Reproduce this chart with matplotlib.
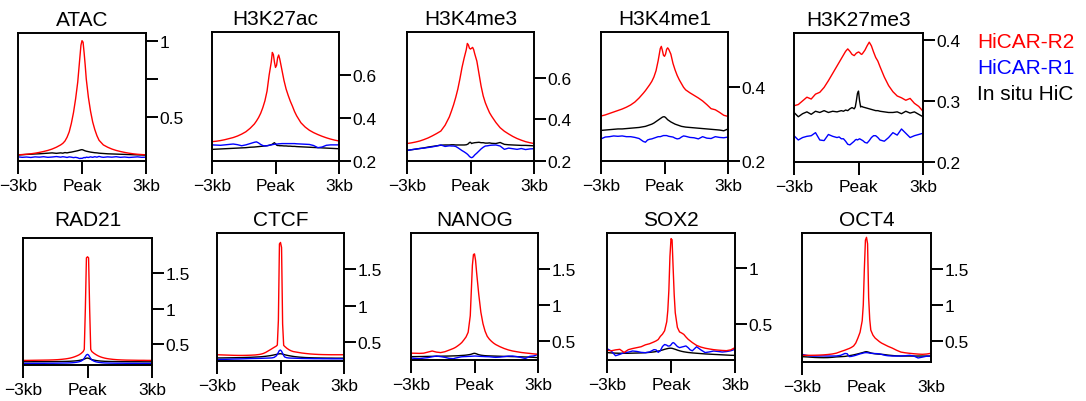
import matplotlib
matplotlib.use("Agg")
import matplotlib.pyplot as plt

plt.rcParams["font.family"] = ["Liberation Sans", "DejaVu Sans"]

FIG_W, FIG_H = 1086, 402

RED = "#ff0000"
BLUE = "#0000ff"
BLACK = "#000000"

# distance from peak centre (kb), shared by every profile
positions = [
    -3.0, -2.8, -2.6, -2.4, -2.2, -2.0, -1.8, -1.6, -1.4,
    -1.2, -1.0, -0.9, -0.8, -0.7, -0.6, -0.5, -0.4, -0.3,
    -0.2, -0.15, -0.1, -0.05, 0.0, 0.05, 0.1, 0.15, 0.2,
    0.3, 0.4, 0.5, 0.6, 0.7, 0.8, 0.9, 1.0, 1.2,
    1.4, 1.6, 1.8, 2.0, 2.2, 2.4, 2.6, 2.8, 3.0,
]
x_tick_labels = ["\u22123kb", "Peak", "3kb"]
series_names = ["HiCAR-R2", "HiCAR-R1", "In situ HiC"]

# ---- ATAC
atac_r2 = [
    0.255, 0.257, 0.259, 0.262, 0.266, 0.271, 0.277, 0.284, 0.293,
    0.305, 0.320, 0.330, 0.345, 0.370, 0.405, 0.460, 0.530, 0.620,
    0.730, 0.810, 0.890, 0.970, 1.000, 0.990, 0.920, 0.840, 0.750,
    0.630, 0.540, 0.470, 0.420, 0.380, 0.350, 0.335, 0.320, 0.305,
    0.293, 0.284, 0.277, 0.271, 0.266, 0.262, 0.259, 0.257, 0.255,
]
atac_r1 = [
    0.242, 0.239, 0.241, 0.238, 0.242, 0.240, 0.243, 0.239, 0.241,
    0.244, 0.240, 0.243, 0.241, 0.238, 0.242, 0.240, 0.237, 0.239,
    0.236, 0.233, 0.231, 0.233, 0.232, 0.235, 0.238, 0.236, 0.240,
    0.238, 0.242, 0.239, 0.243, 0.240, 0.245, 0.241, 0.239, 0.242,
    0.240, 0.243, 0.239, 0.241, 0.238, 0.240, 0.242, 0.239, 0.240,
]
atac_hic = [
    0.254, 0.256, 0.258, 0.259, 0.261, 0.262, 0.264, 0.266, 0.268,
    0.265, 0.268, 0.266, 0.270, 0.268, 0.271, 0.273, 0.276, 0.279,
    0.282, 0.284, 0.286, 0.288, 0.289, 0.287, 0.284, 0.281, 0.279,
    0.276, 0.273, 0.271, 0.269, 0.268, 0.266, 0.265, 0.264, 0.262,
    0.261, 0.260, 0.259, 0.258, 0.257, 0.256, 0.255, 0.254, 0.253,
]

# ---- H3K27ac
h3k27ac_r2 = [
    0.290, 0.292, 0.295, 0.299, 0.304, 0.309, 0.316, 0.325, 0.336,
    0.352, 0.372, 0.386, 0.402, 0.422, 0.448, 0.480, 0.525, 0.600,
    0.660, 0.705, 0.695, 0.660, 0.635, 0.645, 0.680, 0.693, 0.675,
    0.625, 0.575, 0.535, 0.505, 0.478, 0.455, 0.430, 0.410, 0.378,
    0.358, 0.343, 0.332, 0.323, 0.315, 0.308, 0.302, 0.297, 0.293,
]
h3k27ac_r1 = [
    0.275, 0.274, 0.273, 0.275, 0.277, 0.279, 0.276, 0.271, 0.275,
    0.281, 0.287, 0.289, 0.284, 0.277, 0.272, 0.270, 0.271, 0.273,
    0.275, 0.276, 0.277, 0.278, 0.278, 0.279, 0.279, 0.280, 0.280,
    0.281, 0.281, 0.281, 0.281, 0.281, 0.281, 0.281, 0.280, 0.279,
    0.278, 0.277, 0.272, 0.262, 0.265, 0.273, 0.275, 0.275, 0.275,
]
h3k27ac_hic = [
    0.254, 0.255, 0.256, 0.257, 0.258, 0.259, 0.260, 0.261, 0.262,
    0.264, 0.265, 0.266, 0.267, 0.268, 0.269, 0.270, 0.271, 0.273,
    0.276, 0.278, 0.282, 0.285, 0.280, 0.274, 0.272, 0.272, 0.271,
    0.271, 0.270, 0.270, 0.269, 0.269, 0.268, 0.268, 0.267, 0.266,
    0.265, 0.264, 0.263, 0.262, 0.261, 0.260, 0.259, 0.258, 0.257,
]

# ---- H3K4me3
h3k4me3_r2 = [
    0.284, 0.287, 0.291, 0.296, 0.303, 0.311, 0.321, 0.332, 0.344,
    0.372, 0.412, 0.440, 0.470, 0.505, 0.545, 0.595, 0.650, 0.695,
    0.735, 0.765, 0.758, 0.742, 0.738, 0.742, 0.746, 0.735, 0.715,
    0.680, 0.620, 0.560, 0.513, 0.480, 0.455, 0.432, 0.415, 0.385,
    0.360, 0.343, 0.330, 0.318, 0.308, 0.300, 0.293, 0.288, 0.284,
]
h3k4me3_r1 = [
    0.251, 0.254, 0.257, 0.260, 0.262, 0.265, 0.268, 0.272, 0.277,
    0.270, 0.273, 0.272, 0.272, 0.270, 0.264, 0.257, 0.250, 0.244,
    0.237, 0.233, 0.228, 0.222, 0.218, 0.216, 0.218, 0.223, 0.229,
    0.238, 0.248, 0.258, 0.266, 0.272, 0.273, 0.275, 0.276, 0.277,
    0.272, 0.256, 0.262, 0.259, 0.256, 0.260, 0.255, 0.258, 0.259,
]
h3k4me3_hic = [
    0.251, 0.254, 0.257, 0.260, 0.263, 0.267, 0.270, 0.273, 0.276,
    0.277, 0.277, 0.278, 0.278, 0.277, 0.277, 0.277, 0.277, 0.277,
    0.278, 0.280, 0.283, 0.289, 0.290, 0.284, 0.286, 0.287, 0.288,
    0.289, 0.290, 0.288, 0.288, 0.286, 0.286, 0.287, 0.285, 0.284,
    0.289, 0.280, 0.278, 0.277, 0.276, 0.275, 0.275, 0.274, 0.273,
]

# ---- H3K4me1
h3k4me1_r2 = [
    0.322, 0.325, 0.329, 0.333, 0.337, 0.341, 0.346, 0.352, 0.360,
    0.371, 0.384, 0.391, 0.399, 0.407, 0.416, 0.428, 0.445, 0.472,
    0.505, 0.511, 0.500, 0.487, 0.484, 0.490, 0.503, 0.507, 0.503,
    0.490, 0.465, 0.447, 0.432, 0.420, 0.410, 0.400, 0.393, 0.385,
    0.378, 0.371, 0.363, 0.353, 0.342, 0.339, 0.332, 0.324, 0.321,
]
h3k4me1_r1 = [
    0.260, 0.265, 0.266, 0.268, 0.267, 0.268, 0.266, 0.266, 0.264,
    0.261, 0.253, 0.251, 0.257, 0.259, 0.260, 0.262, 0.264, 0.266,
    0.266, 0.267, 0.268, 0.269, 0.269, 0.269, 0.269, 0.268, 0.267,
    0.266, 0.265, 0.262, 0.260, 0.261, 0.265, 0.268, 0.267, 0.264,
    0.263, 0.260, 0.266, 0.262, 0.261, 0.266, 0.264, 0.263, 0.265,
]
h3k4me1_hic = [
    0.283, 0.284, 0.285, 0.286, 0.287, 0.287, 0.288, 0.289, 0.290,
    0.291, 0.293, 0.294, 0.296, 0.298, 0.300, 0.303, 0.307, 0.311,
    0.315, 0.317, 0.319, 0.320, 0.320, 0.318, 0.315, 0.312, 0.310,
    0.306, 0.303, 0.300, 0.298, 0.296, 0.294, 0.293, 0.292, 0.291,
    0.290, 0.289, 0.288, 0.287, 0.286, 0.285, 0.284, 0.282, 0.287,
]

# ---- H3K27me3
h3k27me3_r2 = [
    0.292, 0.294, 0.300, 0.306, 0.303, 0.311, 0.314, 0.322, 0.333,
    0.345, 0.357, 0.363, 0.369, 0.375, 0.381, 0.385, 0.381, 0.376,
    0.374, 0.376, 0.378, 0.379, 0.380, 0.379, 0.377, 0.376, 0.378,
    0.383, 0.390, 0.396, 0.390, 0.380, 0.371, 0.365, 0.356, 0.339,
    0.325, 0.315, 0.308, 0.305, 0.301, 0.304, 0.296, 0.291, 0.283,
]
h3k27me3_r1 = [
    0.243, 0.236, 0.240, 0.242, 0.243, 0.248, 0.236, 0.235, 0.245,
    0.242, 0.240, 0.241, 0.238, 0.238, 0.234, 0.229, 0.228, 0.231,
    0.234, 0.236, 0.237, 0.236, 0.237, 0.238, 0.237, 0.236, 0.235,
    0.232, 0.231, 0.235, 0.240, 0.243, 0.243, 0.240, 0.236, 0.234,
    0.240, 0.248, 0.244, 0.254, 0.247, 0.240, 0.243, 0.245, 0.247,
]
h3k27me3_hic = [
    0.281, 0.274, 0.279, 0.282, 0.278, 0.283, 0.281, 0.284, 0.281,
    0.283, 0.282, 0.283, 0.284, 0.283, 0.285, 0.284, 0.287, 0.289,
    0.287, 0.290, 0.300, 0.312, 0.316, 0.300, 0.290, 0.291, 0.290,
    0.289, 0.288, 0.287, 0.286, 0.285, 0.284, 0.284, 0.283, 0.282,
    0.281, 0.281, 0.282, 0.279, 0.283, 0.280, 0.282, 0.278, 0.274,
]

# ---- RAD21
rad21_r2 = [
    0.275, 0.275, 0.276, 0.277, 0.278, 0.279, 0.280, 0.282, 0.285,
    0.290, 0.297, 0.302, 0.308, 0.316, 0.326, 0.338, 0.352, 0.372,
    0.400, 0.430, 1.000, 1.720, 1.735, 1.720, 1.000, 0.430, 0.400,
    0.375, 0.355, 0.338, 0.325, 0.315, 0.307, 0.301, 0.296, 0.289,
    0.284, 0.281, 0.279, 0.278, 0.277, 0.276, 0.276, 0.275, 0.275,
]
rad21_r1 = [
    0.233, 0.233, 0.233, 0.234, 0.234, 0.234, 0.235, 0.235, 0.236,
    0.237, 0.238, 0.239, 0.240, 0.242, 0.245, 0.249, 0.255, 0.265,
    0.285, 0.305, 0.330, 0.352, 0.360, 0.350, 0.325, 0.300, 0.282,
    0.264, 0.254, 0.248, 0.244, 0.241, 0.239, 0.238, 0.237, 0.236,
    0.235, 0.235, 0.234, 0.234, 0.234, 0.233, 0.233, 0.233, 0.233,
]
rad21_hic = [
    0.256, 0.256, 0.256, 0.257, 0.257, 0.257, 0.258, 0.258, 0.259,
    0.260, 0.261, 0.262, 0.263, 0.265, 0.267, 0.270, 0.274, 0.280,
    0.288, 0.294, 0.300, 0.306, 0.308, 0.305, 0.298, 0.292, 0.286,
    0.279, 0.273, 0.269, 0.266, 0.264, 0.262, 0.261, 0.260, 0.259,
    0.258, 0.257, 0.257, 0.256, 0.256, 0.256, 0.255, 0.255, 0.255,
]

# ---- CTCF
ctcf_r2 = [
    0.326, 0.324, 0.322, 0.320, 0.318, 0.317, 0.317, 0.318, 0.320,
    0.323, 0.330, 0.336, 0.345, 0.358, 0.375, 0.392, 0.410, 0.428,
    0.445, 0.460, 0.800, 1.850, 1.870, 1.800, 0.750, 0.455, 0.440,
    0.415, 0.395, 0.380, 0.370, 0.365, 0.360, 0.355, 0.350, 0.343,
    0.337, 0.333, 0.330, 0.328, 0.327, 0.326, 0.326, 0.326, 0.326,
]
ctcf_r1 = [
    0.261, 0.262, 0.263, 0.265, 0.267, 0.268, 0.270, 0.272, 0.274,
    0.275, 0.276, 0.277, 0.278, 0.279, 0.280, 0.281, 0.283, 0.290,
    0.310, 0.330, 0.360, 0.385, 0.390, 0.375, 0.345, 0.315, 0.295,
    0.285, 0.281, 0.280, 0.279, 0.278, 0.277, 0.276, 0.275, 0.274,
    0.273, 0.272, 0.272, 0.271, 0.271, 0.270, 0.270, 0.270, 0.270,
]
ctcf_hic = [
    0.282, 0.282, 0.283, 0.284, 0.285, 0.286, 0.287, 0.289, 0.291,
    0.294, 0.297, 0.299, 0.302, 0.305, 0.309, 0.313, 0.318, 0.324,
    0.330, 0.334, 0.337, 0.339, 0.340, 0.338, 0.334, 0.330, 0.326,
    0.319, 0.313, 0.308, 0.303, 0.299, 0.296, 0.293, 0.291, 0.287,
    0.285, 0.283, 0.282, 0.281, 0.280, 0.280, 0.279, 0.279, 0.279,
]

# ---- NANOG
nanog_r2 = [
    0.330, 0.329, 0.327, 0.330, 0.345, 0.360, 0.345, 0.338, 0.350,
    0.372, 0.395, 0.410, 0.430, 0.452, 0.478, 0.515, 0.555, 0.620,
    0.850, 1.200, 1.550, 1.700, 1.710, 1.620, 1.450, 1.300, 1.150,
    0.900, 0.740, 0.635, 0.565, 0.525, 0.495, 0.470, 0.450, 0.420,
    0.395, 0.375, 0.360, 0.350, 0.340, 0.333, 0.327, 0.320, 0.315,
]
nanog_r1 = [
    0.263, 0.257, 0.253, 0.262, 0.268, 0.280, 0.290, 0.282, 0.272,
    0.258, 0.253, 0.262, 0.268, 0.275, 0.280, 0.282, 0.283, 0.285,
    0.286, 0.287, 0.288, 0.289, 0.290, 0.290, 0.289, 0.288, 0.287,
    0.285, 0.284, 0.282, 0.281, 0.280, 0.277, 0.274, 0.272, 0.275,
    0.282, 0.289, 0.290, 0.282, 0.270, 0.255, 0.285, 0.292, 0.312,
]
nanog_hic = [
    0.281, 0.282, 0.283, 0.284, 0.285, 0.286, 0.287, 0.288, 0.289,
    0.290, 0.292, 0.293, 0.294, 0.296, 0.298, 0.300, 0.303, 0.307,
    0.312, 0.316, 0.321, 0.326, 0.328, 0.325, 0.320, 0.314, 0.309,
    0.302, 0.298, 0.295, 0.293, 0.292, 0.291, 0.290, 0.289, 0.287,
    0.285, 0.284, 0.282, 0.281, 0.279, 0.277, 0.275, 0.272, 0.268,
]

# ---- SOX2
sox2_r2 = [
    0.266, 0.262, 0.270, 0.275, 0.247, 0.272, 0.282, 0.290, 0.298,
    0.315, 0.325, 0.333, 0.341, 0.350, 0.362, 0.390, 0.410, 0.440,
    0.520, 0.620, 0.800, 1.100, 1.260, 1.250, 1.000, 0.760, 0.600,
    0.470, 0.430, 0.420, 0.408, 0.385, 0.365, 0.350, 0.335, 0.310,
    0.295, 0.285, 0.278, 0.272, 0.268, 0.265, 0.263, 0.270, 0.290,
]
sox2_r1 = [
    0.281, 0.260, 0.218, 0.230, 0.245, 0.250, 0.260, 0.256, 0.248,
    0.245, 0.252, 0.262, 0.272, 0.270, 0.248, 0.262, 0.300, 0.318,
    0.312, 0.305, 0.304, 0.306, 0.315, 0.328, 0.335, 0.330, 0.320,
    0.300, 0.290, 0.295, 0.300, 0.305, 0.290, 0.270, 0.262, 0.298,
    0.270, 0.246, 0.252, 0.260, 0.256, 0.251, 0.255, 0.262, 0.275,
]
sox2_hic = [
    0.246, 0.243, 0.241, 0.240, 0.240, 0.240, 0.241, 0.242, 0.243,
    0.245, 0.248, 0.250, 0.252, 0.255, 0.259, 0.264, 0.269, 0.275,
    0.280, 0.282, 0.284, 0.285, 0.285, 0.284, 0.281, 0.278, 0.275,
    0.268, 0.262, 0.257, 0.253, 0.250, 0.247, 0.245, 0.243, 0.240,
    0.237, 0.234, 0.232, 0.230, 0.228, 0.226, 0.224, 0.222, 0.221,
]

# ---- OCT4
oct4_r2 = [
    0.300, 0.300, 0.300, 0.301, 0.303, 0.306, 0.311, 0.318, 0.330,
    0.352, 0.372, 0.384, 0.395, 0.410, 0.430, 0.470, 0.540, 0.620,
    0.780, 1.000, 1.500, 1.900, 1.940, 1.850, 1.100, 0.800, 0.650,
    0.580, 0.540, 0.515, 0.490, 0.470, 0.455, 0.440, 0.425, 0.400,
    0.370, 0.345, 0.335, 0.328, 0.322, 0.317, 0.314, 0.318, 0.328,
]
oct4_r1 = [
    0.314, 0.300, 0.290, 0.289, 0.290, 0.291, 0.290, 0.290, 0.291,
    0.300, 0.326, 0.322, 0.282, 0.285, 0.292, 0.300, 0.310, 0.320,
    0.327, 0.332, 0.335, 0.337, 0.337, 0.336, 0.333, 0.330, 0.328,
    0.326, 0.324, 0.323, 0.320, 0.313, 0.305, 0.298, 0.294, 0.290,
    0.290, 0.291, 0.294, 0.300, 0.290, 0.263, 0.275, 0.288, 0.290,
]
oct4_hic = [
    0.281, 0.278, 0.274, 0.270, 0.268, 0.267, 0.268, 0.272, 0.278,
    0.281, 0.285, 0.290, 0.295, 0.300, 0.306, 0.313, 0.320, 0.328,
    0.336, 0.340, 0.345, 0.349, 0.350, 0.347, 0.343, 0.338, 0.333,
    0.326, 0.321, 0.318, 0.316, 0.314, 0.311, 0.307, 0.303, 0.297,
    0.292, 0.290, 0.290, 0.290, 0.290, 0.290, 0.290, 0.290, 0.290,
]


def px_box(left, top, right, bottom):
    # pixel box of the reference -> figure fraction rectangle
    return [left / FIG_W, 1 - bottom / FIG_H,
            (right - left) / FIG_W, (bottom - top) / FIG_H]


panels = [
    dict(title="ATAC", data=(atac_r2, atac_r1, atac_hic), box=(18, 34, 146, 162),
         ylim=(0.215, 1.05), yticks=[0.5, 0.75, 1.0], ylabels=["0.5", "", "1"]),
    dict(title="H3K27ac", data=(h3k27ac_r2, h3k27ac_r1, h3k27ac_hic), box=(212, 33, 339, 162),
         ylim=(0.2, 0.8), yticks=[0.2, 0.4, 0.6], ylabels=["0.2", "0.4", "0.6"]),
    dict(title="H3K4me3", data=(h3k4me3_r2, h3k4me3_r1, h3k4me3_hic), box=(407, 33, 534, 162),
         ylim=(0.2, 0.82), yticks=[0.2, 0.4, 0.6], ylabels=["0.2", "0.4", "0.6"]),
    dict(title="H3K4me1", data=(h3k4me1_r2, h3k4me1_r1, h3k4me1_hic), box=(601, 33, 728, 162),
         ylim=(0.2, 0.55), yticks=[0.2, 0.4], ylabels=["0.2", "0.4"]),
    dict(title="H3K27me3", data=(h3k27me3_r2, h3k27me3_r1, h3k27me3_hic), box=(794, 34, 923, 163),
         ylim=(0.2, 0.411), yticks=[0.2, 0.3, 0.4], ylabels=["0.2", "0.3", "0.4"]),
    dict(title="RAD21", data=(rad21_r2, rad21_r1, rad21_hic), box=(23, 239, 152, 366),
         ylim=(0.21, 2.0), yticks=[0.5, 1.0, 1.5], ylabels=["0.5", "1", "1.5"], tpad=9.5),
    dict(title="CTCF", data=(ctcf_r2, ctcf_r1, ctcf_hic), box=(217, 234, 344, 362),
         ylim=(0.24, 2.0), yticks=[0.5, 1.0, 1.5], ylabels=["0.5", "1", "1.5"]),
    dict(title="NANOG", data=(nanog_r2, nanog_r1, nanog_hic), box=(411, 234, 538, 361),
         ylim=(0.235, 2.0), yticks=[0.5, 1.0, 1.5], ylabels=["0.5", "1", "1.5"]),
    dict(title="SOX2", data=(sox2_r2, sox2_r1, sox2_hic), box=(607, 234, 735, 361),
         ylim=(0.18, 1.31), yticks=[0.5, 1.0], ylabels=["0.5", "1"]),
    dict(title="OCT4", data=(oct4_r2, oct4_r1, oct4_hic), box=(802, 234, 931, 363),
         ylim=(0.207, 2.0), yticks=[0.5, 1.0, 1.5], ylabels=["0.5", "1", "1.5"]),
]

fig = plt.figure(figsize=(FIG_W / 100, FIG_H / 100), dpi=100, facecolor="white")

for p in panels:
    r2, r1, hic = p["data"]
    ax = fig.add_axes(px_box(*p["box"]))
    ax.plot(positions, hic, color=BLACK, lw=1.0)
    ax.plot(positions, r1, color=BLUE, lw=1.0)
    ax.plot(positions, r2, color=RED, lw=1.0)

    ax.set_xlim(-3, 3)
    ax.set_ylim(*p["ylim"])
    ax.set_xticks([-3, 0, 3])
    ax.set_xticklabels(x_tick_labels)
    ax.yaxis.tick_right()
    ax.set_yticks(p["yticks"])
    ax.set_yticklabels(p["ylabels"])
    ax.tick_params(axis="x", direction="out", length=9.5, width=1.4, pad=2.5, labelsize=12.5)
    ax.tick_params(axis="y", direction="out", length=8.5, width=1.4, pad=1, labelsize=12.5)
    for spine in ax.spines.values():
        spine.set_linewidth(1.4)
    ax.set_title(p["title"], fontsize=15, pad=p.get("tpad", 6))

    # the OCT4 panel only shows the left x tick mark
    if p["title"] == "OCT4":
        for tick in ax.xaxis.get_major_ticks()[1:]:
            tick.tick1line.set_visible(False)

# legend as coloured text
for i, (name, color) in enumerate(zip(series_names, [RED, BLUE, BLACK])):
    fig.text(977 / FIG_W, 1 - (43 + 26 * i) / FIG_H, name, color=color,
             fontsize=15, ha="left", va="center")

fig.savefig("out.png", dpi=100, facecolor="white")
plt.close(fig)
